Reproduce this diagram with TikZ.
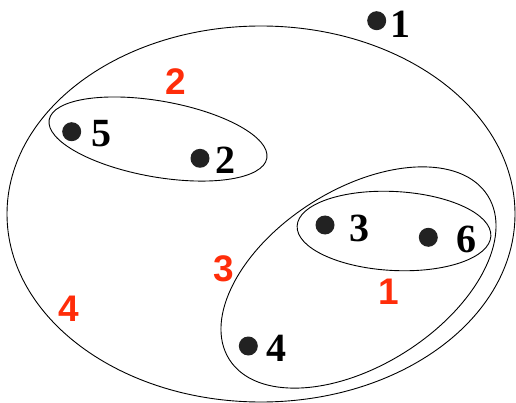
\documentclass[tikz,border=0pt]{standalone}
\usepackage{fontspec}
\newfontfamily\serifbold{Liberation Serif}[BoldFont={Liberation Serif Bold}]
\newfontfamily\sansbold{Liberation Sans}[BoldFont={Liberation Sans Bold}]
\definecolor{setred}{RGB}{255,45,10}
\definecolor{dotblack}{RGB}{34,34,34}
\begin{document}
\begin{tikzpicture}[x=1pt,y=-1pt,
  pt/.style={circle,fill=dotblack,draw=none,minimum size=19pt,inner sep=0pt},
  vlabel/.style={inner sep=0pt,font=\serifbold\bfseries\fontsize{40}{40}\selectfont,text=black},
  slabel/.style={inner sep=0pt,font=\sansbold\bfseries\fontsize{37}{37}\selectfont,text=setred},
  setline/.style={draw=black,line width=0.9pt}]
\useasboundingbox (0,0) rectangle (516,403);
% ellipses
\coordinate (c4) at (261,214);
\coordinate (c2) at (158,139);
\coordinate (c1) at (394,231);
\coordinate (c3) at (358.5,277.5);
\draw[setline] (c4) ellipse [x radius=254pt, y radius=188pt];
\draw[setline, rotate around={-10:(c2)}] (c2) ellipse [x radius=110.5pt, y radius=38pt];
\draw[setline, rotate around={-3:(c1)}] (c1) ellipse [x radius=97pt, y radius=39.5pt];
\draw[setline, rotate around={32.4:(c3)}] (c3) ellipse [x radius=153pt, y radius=88pt];
% points
\node[pt] (p1) at (376.7,20.7) {};
\node[pt] (p5) at (71.7,131.7) {};
\node[pt] (p2) at (200,158.3) {};
\node[pt] (p3) at (325,225) {};
\node[pt] (p6) at (428.3,237.3) {};
\node[pt] (p4) at (248.3,346) {};
% point labels
\node[vlabel] (l1) at (400.7,24) {1};
\node[vlabel] (l5) at (101.7,133.3) {5};
\node[vlabel] (l2) at (225.7,160.7) {2};
\node[vlabel] (l3) at (359,228.3) {3};
\node[vlabel] (l6) at (466.7,239) {6};
\node[vlabel] (l4) at (276.3,348.3) {4};
% set labels
\node[slabel] (s2) at (176,81.7) {2};
\node[slabel] (s3) at (223.3,268.3) {3};
\node[slabel] (s4) at (69,309) {4};
\node[slabel] (s1) at (388.3,291.7) {1};
\end{tikzpicture}
\end{document}
